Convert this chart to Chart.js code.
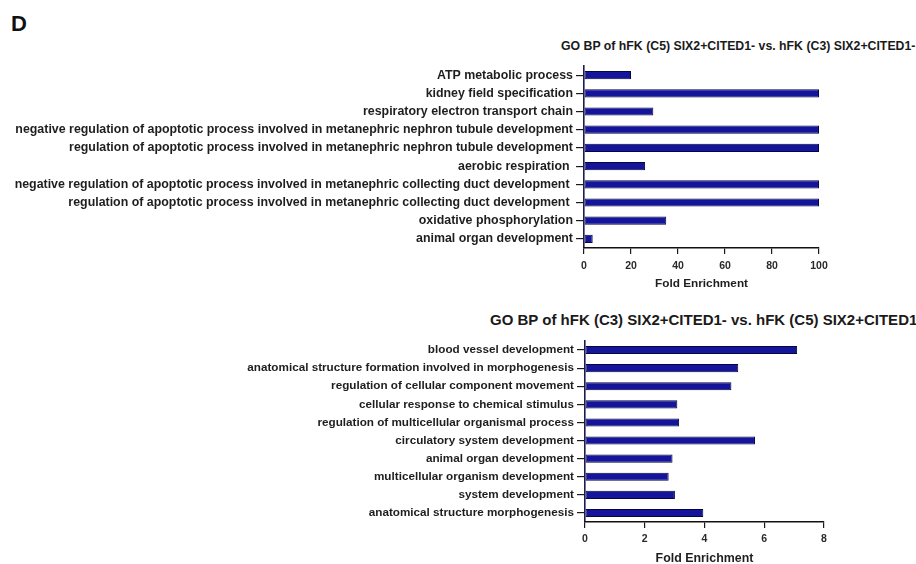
<!DOCTYPE html>
<html><head><meta charset="utf-8">
<script src="https://cdn.jsdelivr.net/npm/chart.js@4/dist/chart.umd.min.js"></script>
<style>
html,body{margin:0;padding:0;width:916px;height:564px;overflow:hidden;background:#fff;font-family:"Liberation Sans",Arial,sans-serif;}
.abs{position:absolute;white-space:nowrap;}
.title{font-weight:bold;color:#1a1a1a;}
</style></head><body>
<div class="abs" style="left:11px;top:11px;font-size:22px;font-weight:bold;color:#111;">D</div>
<div class="abs title" style="left:561px;top:39px;font-size:12.3px;">GO BP of hFK (C5) SIX2+CITED1- vs. hFK (C3) SIX2+CITED1-</div>
<div class="abs title" style="left:490px;top:311px;font-size:15px;">GO BP of hFK (C3) SIX2+CITED1- vs. hFK (C5) SIX2+CITED1-</div>
<div class="abs" style="left:0;top:55px;width:916px;height:245px"><canvas id="c1"></canvas></div>
<div class="abs" style="left:0;top:330px;width:916px;height:234px"><canvas id="c2"></canvas></div>
<script>
const topCategories = [
  "ATP metabolic process",
  "kidney field specification",
  "respiratory electron transport chain",
  "negative regulation of apoptotic process involved in metanephric nephron tubule development",
  "regulation of apoptotic process involved in metanephric nephron tubule development",
  "aerobic respiration ",
  "negative regulation of apoptotic process involved in metanephric collecting duct development ",
  "regulation of apoptotic process involved in metanephric collecting duct development ",
  "oxidative phosphorylation",
  "animal organ development"
];
const topFoldEnrichment = [20, 100, 29.5, 100, 100, 26, 100, 100, 35, 3.7];
const topTicks = [0, 20, 40, 60, 80, 100];

const bottomCategories = [
  "blood vessel development",
  "anatomical structure formation involved in morphogenesis",
  "regulation of cellular component movement",
  "cellular response to chemical stimulus",
  "regulation of multicellular organismal process",
  "circulatory system development",
  "animal organ development",
  "multicellular organism development",
  "system development",
  "anatomical structure morphogenesis"
];
const bottomFoldEnrichment = [7.1, 5.13, 4.9, 3.09, 3.15, 5.69, 2.93, 2.8, 3.01, 3.96];
const bottomTicks = [0, 2, 4, 6, 8];

const xTitle = "Fold Enrichment";

function makeChart(id, cats, vals, ticks, cfg) {
  const max = ticks[ticks.length - 1];
  const step = ticks[1] - ticks[0];
  return new Chart(document.getElementById(id), {
    type: 'bar',
    data: {
      labels: cats,
      datasets: [{
        data: vals,
        backgroundColor: '#15159c',
        borderColor: '#05053f',
        borderWidth: 1,
        borderSkipped: false,
        categoryPercentage: 0.5,
        barPercentage: 0.9
      }]
    },
    options: {
      indexAxis: 'y',
      responsive: true,
      maintainAspectRatio: false,
      animation: false,
      layout: { padding: { top: cfg.padTop, right: cfg.padRight, left: 0, bottom: 0 } },
      plugins: { legend: { display: false }, tooltip: { enabled: false }, title: { display: false } },
      scales: {
        y: {
          afterFit: s => { s.width = cfg.axisLeft; },
          grid: { display: true, offset: false, drawOnChartArea: false, tickLength: 8, color: '#1a1a1a', lineWidth: 1.2 },
          border: { display: true, color: '#1c1c50', width: 1.6 },
          ticks: { color: '#1e1e1e', padding: 3, font: { family: 'Liberation Sans', weight: 'bold', size: cfg.labelSize }, autoSkip: false }
        },
        x: {
          min: 0, max: max,
          afterFit: s => { s.height = cfg.xHeight; },
          afterBuildTicks: s => { s.ticks = ticks.map(v => ({ value: v })); },
          grid: { display: true, drawOnChartArea: false, tickLength: 6, color: '#1a1a1a', lineWidth: 1.2 },
          border: { display: true, color: '#111', width: 1.6 },
          ticks: { stepSize: step, color: '#2a2a2a', padding: cfg.tickPad, font: { family: 'Liberation Sans', weight: 'bold', size: cfg.tickSize } },
          title: { display: true, text: xTitle, color: '#1e1e1e', padding: { top: 0, bottom: cfg.titlePadBottom }, font: { family: 'Liberation Sans', weight: 'bold', size: cfg.titleSize } }
        }
      }
    }
  });
}

makeChart('c1', topCategories, topFoldEnrichment, topTicks,
  { padTop: 11, padRight: 97, axisLeft: 584, xHeight: 52, labelSize: 12.4, tickSize: 10.5, tickPad: 6, titleSize: 11.8, titlePadBottom: 9 });
makeChart('c2', bottomCategories, bottomFoldEnrichment, bottomTicks,
  { padTop: 11, padRight: 92, axisLeft: 585, xHeight: 42, labelSize: 11.7, tickSize: 10.5, tickPad: 5, titleSize: 12.4, titlePadBottom: -2 });
</script>
</body></html>
